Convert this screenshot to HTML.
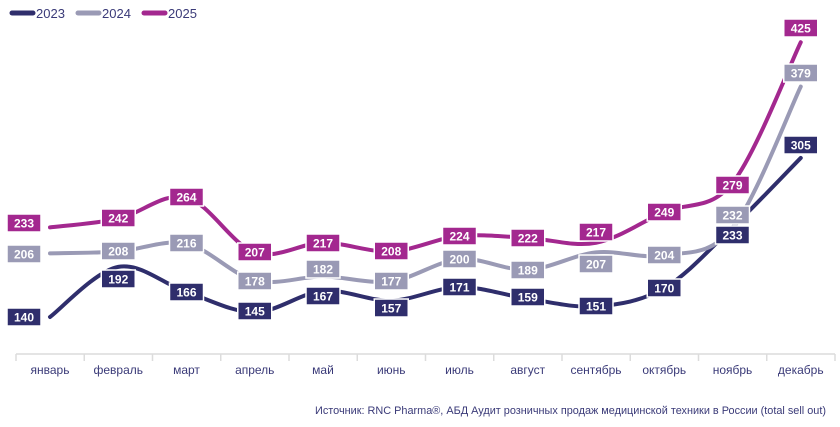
<!DOCTYPE html>
<html><head><meta charset="utf-8"><style>
body{margin:0;background:#fff;width:840px;height:422px;overflow:hidden;font-family:"Liberation Sans",sans-serif}
</style></head><body>
<svg id="s" width="840" height="422" xmlns="http://www.w3.org/2000/svg" font-family="Liberation Sans, sans-serif">
<g stroke-linecap="round" stroke-width="5">
<line x1="12" y1="13" x2="33" y2="13" stroke="#2f2e6c"/>
<line x1="78" y1="13" x2="99" y2="13" stroke="#9a9ab5"/>
<line x1="144" y1="13" x2="165" y2="13" stroke="#a3288f"/>
</g>
<g font-size="13" fill="#3a3a78">
<text x="36" y="18">2023</text><text x="102" y="18">2024</text><text x="168" y="18">2025</text>
</g>
<line x1="16" y1="354" x2="835" y2="354" stroke="#dcdcdc" stroke-width="1.5"/>
<g id="ticks" stroke="#dcdcdc" stroke-width="1.5"></g>
<g id="lab" font-size="12" fill="#3a3a78" text-anchor="middle"></g>
<g id="lines" fill="none" stroke-width="4" stroke-linecap="round"></g>
<g id="boxes" font-size="12" font-weight="bold" fill="#fff" text-anchor="middle"></g>
<text x="315" y="414" font-size="11" fill="#3a3a78" textLength="511" lengthAdjust="spacingAndGlyphs">Источник: RNC Pharma®, АБД Аудит розничных продаж медицинской техники в России (total sell out)</text>
</svg>
<script>
var NS="http://www.w3.org/2000/svg";
function el(p,t,a,tx){var e=document.createElementNS(NS,t);for(var k in a)e.setAttribute(k,a[k]);if(tx!=null)e.textContent=tx;document.getElementById(p).appendChild(e);}
var months=["январь","февраль","март","апрель","май","июнь","июль","август","сентябрь","октябрь","ноябрь","декабрь"];
var W=68.25;
for(var i=0;i<=12;i++){var x=16+W*i;el("ticks","line",{x1:x,y1:354,x2:x,y2:361});}
months.forEach(function(m,i){el("lab","text",{x:50+W*i,y:374},m);});
function Y(v){return 317-(v-140)*0.964;}
var S=[
{c:"#2f2e6c",d:[140,192,166,145,167,157,171,159,151,170,233,305],ly:[317,279,292,311,296,308,287,297,306,288,235,145]},
{c:"#9a9ab5",d:[206,208,216,178,182,177,200,189,207,204,232,379],ly:[254,251,243,281,269,281,259,270,264,255,215,73]},
{c:"#a3288f",d:[233,242,264,207,217,208,224,222,217,249,279,425],ly:[223,218,197,252,243,251,236,238,232,212,185,28]}
];
S.forEach(function(s){
 var P=s.d.map(function(v,i){return [50+W*i,Y(v)];});
 var d="M"+P[0][0]+","+P[0][1];
 for(var i=0;i<P.length-1;i++){
  var p0=P[i-1]||P[i],p1=P[i],p2=P[i+1],p3=P[i+2]||P[i+1],t=6;
  d+=" C"+(p1[0]+(p2[0]-p0[0])/t)+","+(p1[1]+(p2[1]-p0[1])/t)+" "+(p2[0]-(p3[0]-p1[0])/t)+","+(p2[1]-(p3[1]-p1[1])/t)+" "+p2[0]+","+p2[1];
 }
 el("lines","path",{d:d,stroke:s.c});
});
S.forEach(function(s){
 s.d.forEach(function(v,i){
  var x=i==0?24:50+W*i,y=s.ly[i];
  el("boxes","rect",{x:x-17,y:y-9,width:34,height:18,fill:s.c,stroke:"#fff","stroke-width":1.5});
  el("boxes","text",{x:x,y:y+4.5},String(v));
 });
});
</script>
</body></html>
